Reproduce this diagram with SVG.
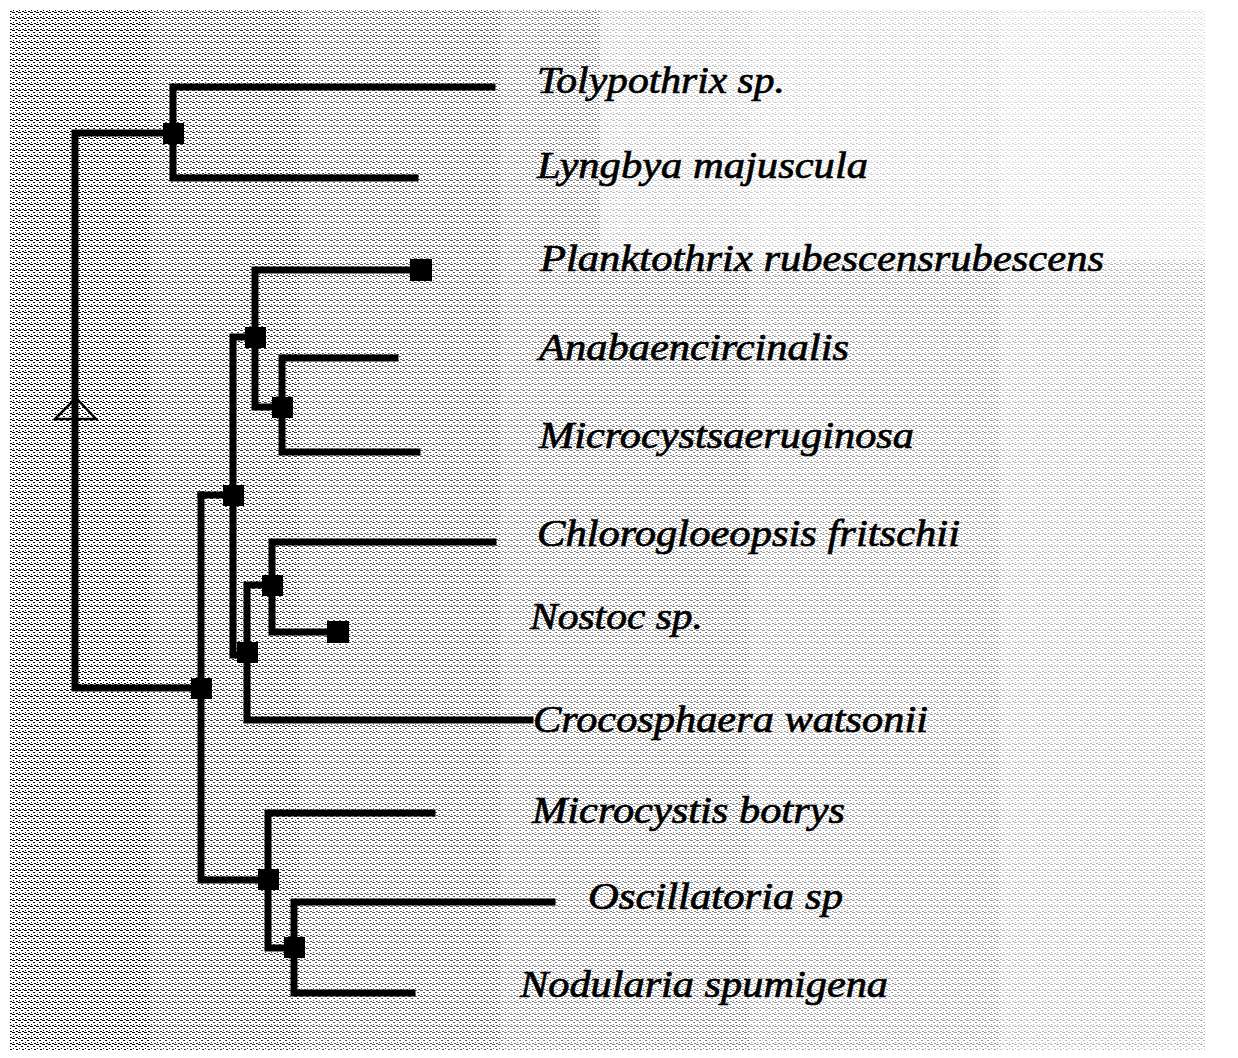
<svg xmlns="http://www.w3.org/2000/svg" width="1238" height="1058" viewBox="0 0 1238 1058">
  <defs>
    <pattern id="dither" width="6" height="6" patternUnits="userSpaceOnUse">
      <rect x="0" y="0" width="3" height="1" fill="#000"/>
      <rect x="3" y="2" width="2" height="1" fill="#000"/>
      <rect x="1" y="4" width="1" height="1" fill="#000"/>
      <rect x="4" y="5" width="2" height="1" fill="#000"/>
    </pattern>
    <style>
      .br { fill: none; stroke: #000; stroke-width: 7; stroke-linecap: square; stroke-linejoin: miter; }
      .sq { fill: #000; }
      .lbl { font-family: 'Liberation Serif', serif; font-style: italic; font-size: 38px; fill: #000; stroke: #000; stroke-width: 0.7; }
      .tri { fill: none; stroke: #000; stroke-width: 2.5; }
      .wh { fill: #fff; }
    </style>
  </defs>

  <rect x="0" y="0" width="1238" height="1058" fill="#fff"/>
  <rect x="10" y="10" width="1195" height="1040" fill="url(#dither)"/>
  <g id="background-fade">
    <rect class="wh" x="150" y="10" width="150" height="1040" fill-opacity="0.2"/>
    <rect class="wh" x="300" y="10" width="200" height="1040" fill-opacity="0.35"/>
    <rect class="wh" x="500" y="10" width="250" height="1040" fill-opacity="0.5"/>
    <rect class="wh" x="750" y="10" width="250" height="1040" fill-opacity="0.62"/>
    <rect class="wh" x="1000" y="10" width="205" height="1040" fill-opacity="0.72"/>
    <rect class="wh" x="600" y="10" width="605" height="250" fill-opacity="0.5"/>
  </g>

  <g id="connectors">
    <polyline class="br" points="173,133 75,133 75,688 201,688"/>
    <polyline class="br" points="492,87 173,87 173,178 415,178"/>
    <polyline class="br" points="201,495 201,880 268,880"/>
    <polyline class="br" points="201,495 233,495"/>
    <polyline class="br" points="255,337 233,337 233,655 247,655"/>
    <polyline class="br" points="421,270 255,270 255,407 282,407"/>
    <polyline class="br" points="395,358 282,358 282,452 417,452"/>
    <polyline class="br" points="272,585 247,585 247,720 530,720"/>
    <polyline class="br" points="493,542 272,542 272,632 338,632"/>
    <polyline class="br" points="432,813 268,813 268,948 294,948"/>
    <polyline class="br" points="552,902 294,902 294,993 412,993"/>
    <polygon class="tri" points="76,398 55,419 96,419"/>
  </g>

  <g id="n-root-a"><rect class="sq" x="163" y="123" width="21" height="21"/></g>
  <g id="n-root-b"><rect class="sq" x="191" y="678" width="21" height="21"/></g>
  <g id="n-1"><rect class="sq" x="223" y="485" width="21" height="21"/></g>
  <g id="n-2"><rect class="sq" x="245" y="327" width="21" height="21"/></g>
  <g id="n-3"><rect class="sq" x="272" y="397" width="21" height="21"/></g>
  <g id="n-4"><rect class="sq" x="237" y="642" width="21" height="21"/></g>
  <g id="n-5"><rect class="sq" x="262" y="575" width="21" height="21"/></g>
  <g id="n-6"><rect class="sq" x="258" y="869" width="21" height="21"/></g>
  <g id="n-7"><rect class="sq" x="284" y="937" width="21" height="21"/></g>
  <g id="n-plankto-end"><rect class="sq" x="410" y="259" width="22" height="22"/></g>
  <g id="n-nostoc-end"><rect class="sq" x="327" y="621" width="22" height="22"/></g>

  <g id="leaf-tolypothrix"><text class="lbl" style="font-family:'Liberation Serif',serif" x="537" y="93" textLength="248" lengthAdjust="spacingAndGlyphs">Tolypothrix sp.</text></g>
  <g id="leaf-lyngbya"><text class="lbl" style="font-family:'Liberation Serif',serif" x="537" y="178" textLength="331" lengthAdjust="spacingAndGlyphs">Lyngbya majuscula</text></g>
  <g id="leaf-planktothrix"><text class="lbl" style="font-family:'Liberation Serif',serif" x="540" y="271" textLength="564" lengthAdjust="spacingAndGlyphs">Planktothrix rubescensrubescens</text></g>
  <g id="leaf-anabaena"><text class="lbl" style="font-family:'Liberation Serif',serif" x="539" y="360" textLength="310" lengthAdjust="spacingAndGlyphs">Anabaencircinalis</text></g>
  <g id="leaf-microcysts"><text class="lbl" style="font-family:'Liberation Serif',serif" x="539" y="448" textLength="375" lengthAdjust="spacingAndGlyphs">Microcystsaeruginosa</text></g>
  <g id="leaf-chlorogloeopsis"><text class="lbl" style="font-family:'Liberation Serif',serif" x="537" y="546" textLength="423" lengthAdjust="spacingAndGlyphs">Chlorogloeopsis fritschii</text></g>
  <g id="leaf-nostoc"><text class="lbl" style="font-family:'Liberation Serif',serif" x="530" y="629" textLength="173" lengthAdjust="spacingAndGlyphs">Nostoc sp.</text></g>
  <g id="leaf-crocosphaera"><text class="lbl" style="font-family:'Liberation Serif',serif" x="533" y="732" textLength="395" lengthAdjust="spacingAndGlyphs">Crocosphaera watsonii</text></g>
  <g id="leaf-microcystis"><text class="lbl" style="font-family:'Liberation Serif',serif" x="532" y="823" textLength="313" lengthAdjust="spacingAndGlyphs">Microcystis botrys</text></g>
  <g id="leaf-oscillatoria"><text class="lbl" style="font-family:'Liberation Serif',serif" x="588" y="909" textLength="255" lengthAdjust="spacingAndGlyphs">Oscillatoria sp</text></g>
  <g id="leaf-nodularia"><text class="lbl" style="font-family:'Liberation Serif',serif" x="520" y="997" textLength="368" lengthAdjust="spacingAndGlyphs">Nodularia spumigena</text></g>
</svg>
